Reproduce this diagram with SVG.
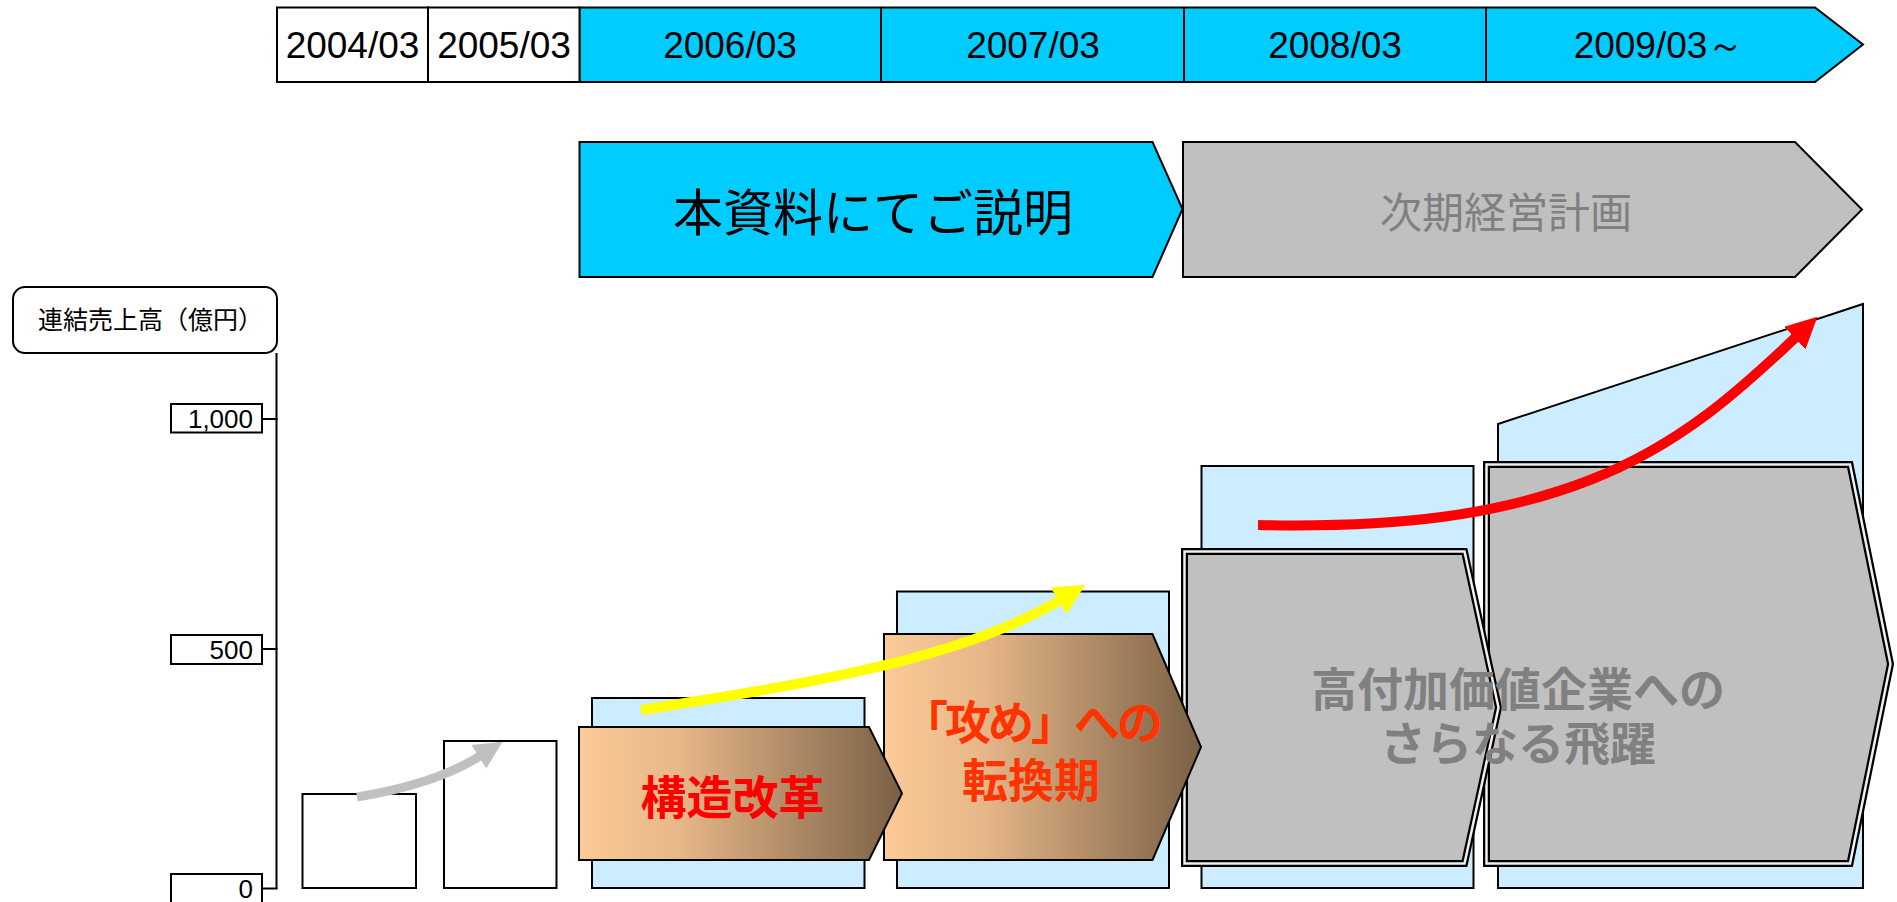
<svg xmlns="http://www.w3.org/2000/svg" width="1897" height="902" viewBox="0 0 1897 902">
<style>
.ln{stroke:#000;stroke-width:2;fill:none}
.cell{fill:#fff;stroke:#000;stroke-width:2}
.blue{fill:#00CCFF;stroke:#000;stroke-width:2}
.lb{fill:#CCECFF;stroke:#000;stroke-width:2}
.gry{fill:#C0C0C0;stroke:#000;stroke-width:2}
.dbl{fill:#C0C0C0;stroke:#000;stroke-width:7;stroke-linejoin:miter;stroke-miterlimit:12}
.dbl2{fill:none;stroke:#f0f0f0;stroke-width:2.5;stroke-linejoin:miter;stroke-miterlimit:12}
.yr{font-family:"Liberation Sans",Arial,sans-serif;font-size:37px;fill:#000;text-anchor:middle}
.tk{font-family:"Liberation Sans",Arial,sans-serif;font-size:26px;fill:#000;text-anchor:end}
.jp{font-family:"Noto Sans CJK JP","Noto Sans CJK SC",sans-serif;text-anchor:middle}
.big{font-weight:bold;font-size:46px}
</style>
<defs>
<linearGradient id="og" x1="0" y1="0" x2="1" y2="0">
<stop offset="0" stop-color="#FBCA97"/>
<stop offset="0.3" stop-color="#E8B88A"/>
<stop offset="1" stop-color="#7A6045"/>
</linearGradient>
<marker id="ay" markerUnits="userSpaceOnUse" viewBox="0 0 10 10" refX="0.5" refY="5" markerWidth="31" markerHeight="31" orient="auto"><path d="M0,0 L10,5 L0,10 z" fill="#FFFF00"/></marker>
<marker id="ar" markerUnits="userSpaceOnUse" viewBox="0 0 10 10" refX="0.5" refY="5" markerWidth="31" markerHeight="31" orient="auto"><path d="M0,0 L10,5 L0,10 z" fill="#FF0000"/></marker>
<marker id="ag" markerUnits="userSpaceOnUse" viewBox="0 0 10 10" refX="0.5" refY="5" markerWidth="28" markerHeight="32" orient="auto"><path d="M0,0 L10,5 L0,10 z" fill="#C0C0C0"/></marker>
</defs>

<g id="timeline">
<polygon class="blue" points="579.5,7.5 1815,7.5 1863,44.5 1815,82 579.5,82"/>
<rect class="cell" x="277" y="7.5" width="151" height="74.5"/>
<rect class="cell" x="428" y="7.5" width="151.5" height="74.5"/>
<line class="ln" x1="881" y1="7.5" x2="881" y2="82"/>
<line class="ln" x1="1184" y1="7.5" x2="1184" y2="82"/>
<line class="ln" x1="1486" y1="7.5" x2="1486" y2="82"/>
<text class="yr" x="352.5" y="58">2004/03</text>
<text class="yr" x="504" y="58">2005/03</text>
<text class="yr" x="730" y="58">2006/03</text>
<text class="yr" x="1033" y="58">2007/03</text>
<text class="yr" x="1335" y="58">2008/03</text>
<text class="yr" x="1659" y="58">2009/03～</text>
</g>

<g id="banner-current">
<polygon class="blue" points="579.5,142 1152.5,142 1182.5,209 1152.5,277 579.5,277"/>
<text class="jp" x="873" y="231" font-size="50" fill="#000">本資料にてご説明</text>
</g>
<g id="banner-next">
<polygon class="gry" points="1183,142 1795,142 1862,209.5 1795,277 1183,277"/>
<text class="jp" x="1506" y="228" font-size="42" fill="#808080">次期経営計画</text>
</g>

<g id="axis-label">
<rect x="13" y="287" width="264" height="66" rx="12" ry="12" fill="#fff" stroke="#000" stroke-width="2"/>
<text x="38" y="329" font-family="'Noto Sans CJK JP','Noto Sans CJK SC',sans-serif" font-size="25" fill="#000">連結売上高（億円）</text>
</g>
<g id="axis">
<line class="ln" x1="276.5" y1="353" x2="276.5" y2="889"/>
<line class="ln" x1="262" y1="419" x2="277.5" y2="419"/>
<line class="ln" x1="262" y1="649" x2="277.5" y2="649"/>
<line class="ln" x1="262" y1="888.5" x2="277.5" y2="888.5"/>
<rect class="cell" x="171" y="404" width="91" height="28.5"/>
<rect class="cell" x="171" y="635" width="91" height="29"/>
<rect class="cell" x="171" y="874" width="91" height="40"/>
<text class="tk" x="253" y="428">1,000</text>
<text class="tk" x="253" y="659">500</text>
<text class="tk" x="253" y="898">0</text>
</g>

<g id="bar-2004"><rect class="cell" x="302.5" y="794" width="113.5" height="94"/></g>
<g id="bar-2005"><rect class="cell" x="444" y="741" width="112.5" height="147"/></g>

<g id="bg-2006"><rect class="lb" x="592" y="698" width="272.5" height="190"/></g>
<g id="bg-2007"><rect class="lb" x="897" y="591.5" width="272" height="296.5"/></g>
<g id="bg-2008"><rect class="lb" x="1201.5" y="466" width="272" height="422"/></g>
<g id="bg-2009"><polygon class="lb" points="1498,424 1863,304 1863,888 1498,888"/></g>

<g id="step-2009">
<polygon class="dbl" points="1486.5,464.5 1850,464.5 1890.5,664 1850,863.5 1486.5,863.5"/>
<polygon class="dbl2" points="1486.5,464.5 1850,464.5 1890.5,664 1850,863.5 1486.5,863.5"/>
</g>
<g id="step-2008">
<polygon class="dbl" points="1184.5,551.5 1464.5,551.5 1498.5,707.5 1464.5,863.5 1184.5,863.5"/>
<polygon class="dbl2" points="1184.5,551.5 1464.5,551.5 1498.5,707.5 1464.5,863.5 1184.5,863.5"/>
</g>
<g id="step-2007">
<polygon points="884,634 1152.5,634 1201,747 1152.5,860 884,860" fill="url(#og)" stroke="#000" stroke-width="2"/>
<text class="jp big" x="1031" y="739" fill="#FF3300" font-size="44" letter-spacing="-3">「攻め」への</text>
<text class="jp big" x="1031" y="797" fill="#FF3300" font-size="44">転換期</text>
</g>
<g id="step-2006">
<polygon points="579,727 869,727 902,793.5 869,860 579,860" fill="url(#og)" stroke="#000" stroke-width="2"/>
<text class="jp big" x="732.5" y="814" fill="#FF0000">構造改革</text>
</g>
<g id="step-text">
<text class="jp big" x="1518" y="706" fill="#808080" font-size="47">高付加価値企業への</text>
<text class="jp big" x="1518" y="760" fill="#808080" font-size="47">さらなる飛躍</text>
</g>

<g id="connectors">
<path d="M357,797 C400,790 445,778 480,756" fill="none" stroke="#C0C0C0" stroke-width="9" marker-end="url(#ag)"/>
<path d="M641,710 C800,685 960,660 1060,600" fill="none" stroke="#FFFF00" stroke-width="10" marker-end="url(#ay)"/>
<path d="M1258,525 C1400,528 1500,515 1590,480 S1740,390 1796,337" fill="none" stroke="#FF0000" stroke-width="10" marker-end="url(#ar)"/>
</g>
</svg>
